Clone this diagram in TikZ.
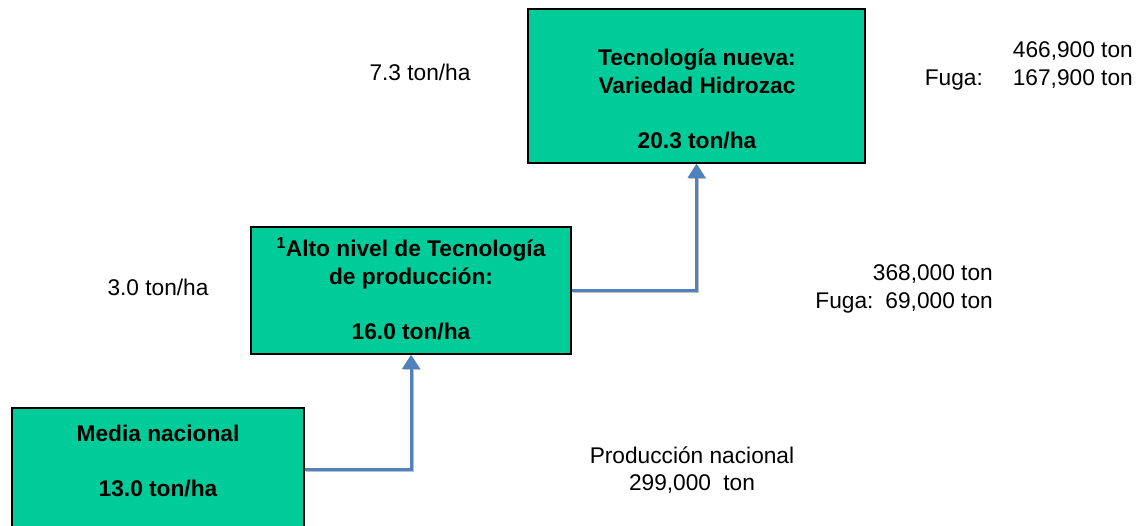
\documentclass[tikz,border=0pt]{standalone}
\usepackage{fontspec}
\setmainfont{Liberation Sans}
\usetikzlibrary{arrows.meta}
\definecolor{boxgreen}{RGB}{0,204,153}
\definecolor{connblue}{RGB}{79,129,189}
\begin{document}
\begin{tikzpicture}[x=1pt,y=-1pt,
  box/.style={draw=black, line width=1.5pt, fill=boxgreen, inner sep=0pt},
  boxtxt/.style={align=center, inner sep=0pt, font=\bfseries\fontsize{22.7}{27.7}\selectfont},
  lbl/.style={inner sep=0pt, font=\fontsize{22.7}{27.2}\selectfont},
  conn/.style={draw=connblue, line width=3pt, -{Triangle[width=17pt,length=14pt]},
    preaction={draw=black!25, line width=3pt, transform canvas={shift={(1.2pt,-1.2pt)}}}}]
\useasboundingbox (0,0) rectangle (1141,525);
\clip (0,0) rectangle (1141,525);
% boxes
\node[box, minimum width=292pt, minimum height=122pt] (b1) at (158,469) {};
\node[box, minimum width=320pt, minimum height=127pt] (b2) at (411,290.5) {};
\node[box, minimum width=337pt, minimum height=154pt] (b3) at (696.5,86) {};
% box texts
\node[boxtxt] (t1) at (158,461) {Media nacional\\[27.7pt]13.0 ton/ha};
\node[boxtxt] (t2) at (411,289) {\textsuperscript{1}Alto nivel de Tecnología\\de producción:\\[27.7pt]16.0 ton/ha};
\node[boxtxt] (t3) at (697,99) {Tecnología nueva:\\Variedad Hidrozac\\[27.7pt]20.3 ton/ha};
% connectors
\draw[conn] (b1.east) -| (b2.south);
\draw[conn] (b2.east) -| (b3.south);
% labels
\node[lbl] (l73) at (420,72) {7.3 ton/ha};
\node[lbl] (l30) at (158,287) {3.0 ton/ha};
\node[lbl, align=right, anchor=east] (lr3) at (1133,66) {466,900 ton\\Fuga:\hspace{30pt}167,900 ton};
\node[lbl, align=right, anchor=east] (lr2) at (993,289) {368,000 ton\\Fuga:\hspace{12pt}69,000 ton};
\node[lbl, align=center] (lpn) at (692,470) {Producción nacional\\299,000\hspace{6pt} ton};
\end{tikzpicture}
\end{document}
